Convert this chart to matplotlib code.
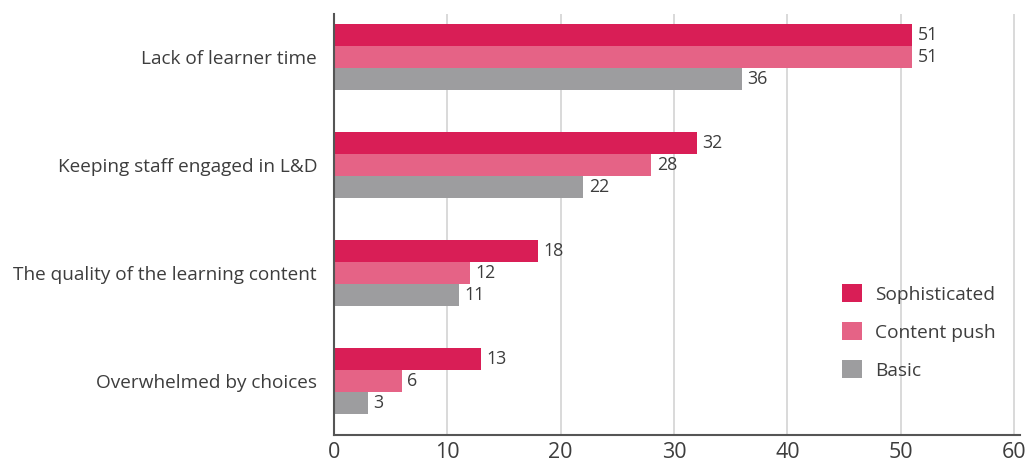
import matplotlib

matplotlib.use("Agg")
import matplotlib.pyplot as plt
import numpy as np

categories = [
    "Lack of learner time",
    "Keeping staff engaged in L&D",
    "The quality of the learning content",
    "Overwhelmed by choices",
]
series_names = ["Sophisticated", "Content push", "Basic"]
sophisticated = [51, 32, 18, 13]
content_push = [51, 28, 12, 6]
basic = [36, 22, 11, 3]
xticks = [0, 10, 20, 30, 40, 50, 60]

colors = ["#D91E56", "#E56386", "#9D9D9F"]
text_color = "#3D3D3D"

plt.rcParams["font.family"] = ["Open Sans", "DejaVu Sans"]

fig = plt.figure(figsize=(10.27, 4.67), dpi=100)
ax = fig.add_axes([0.325, 0.068, 0.668, 0.902])

y = np.arange(len(categories))
bar_h = 0.205
for i, (vals, name, col) in enumerate(zip([sophisticated, content_push, basic], series_names, colors)):
    pos = y + (i - 1) * bar_h
    ax.barh(pos, vals, height=bar_h, color=col, label=name, zorder=3)
    for p, v in zip(pos, vals):
        ax.text(v + 0.5, p, str(v), va="center", ha="left", fontsize=12.8, color=text_color)

ax.set_xlim(0, 60.5)
ax.set_ylim(3.5, -0.4)
ax.set_yticks(y)
ax.set_yticklabels(categories, fontsize=13.7, color=text_color)
ax.set_xticks(xticks)
ax.set_xticklabels([str(t) for t in xticks], fontsize=15.5, color=text_color)
ax.tick_params(axis="both", length=0)
ax.tick_params(axis="y", pad=12)
ax.tick_params(axis="x", pad=5)

ax.grid(axis="x", color="#D3D3D3", linewidth=1.2, zorder=0)
for side in ["top", "right"]:
    ax.spines[side].set_visible(False)
for side in ["left", "bottom"]:
    ax.spines[side].set_color("#555555")
    ax.spines[side].set_linewidth(1.5)
    ax.spines[side].set_zorder(4)

leg = ax.legend(
    loc="upper left",
    bbox_to_anchor=(0.803, 0.428),
    bbox_transform=fig.transFigure,
    frameon=False,
    fontsize=13.8,
    handlelength=1.05,
    handleheight=1.05,
    labelspacing=0.97,
    handletextpad=0.7,
)
for t in leg.get_texts():
    t.set_color(text_color)

fig.savefig("out.png", dpi=100)
